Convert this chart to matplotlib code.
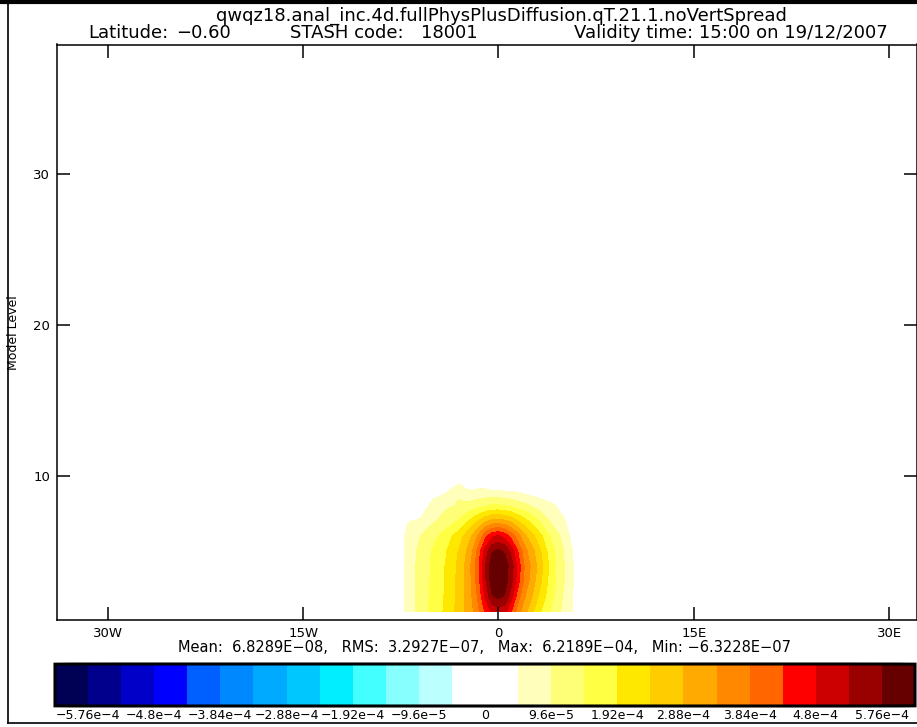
import numpy as np
import matplotlib
matplotlib.use("Agg")
import matplotlib.pyplot as plt
from matplotlib.colors import ListedColormap, BoundaryNorm
from matplotlib.patches import FancyBboxPatch
from matplotlib.lines import Line2D

W, H = 917, 727

# DATA
# qT increment (units of 1e-4 kg/kg) read off the cross-section, rows = model level
lons = [-8, -7, -6, -5, -4, -3, -2.5, -2, -1.5, -1, -0.5, 0,
        0.5, 1, 1.5, 2, 2.5, 3, 4, 5, 6]
model_levels = [1, 2, 3, 4, 5, 6, 7, 8, 9, 10]
qt_inc = [
    [0, 0.64, 1.17, 1.62, 2.03, 2.61, 2.95, 3.29, 3.80, 4.40, 4.90, 5.05,
     4.95, 4.30, 3.60, 3.06, 2.59, 2.08, 1.44, 0.82, 0.33],
    [0, 0.64, 1.15, 1.58, 2.00, 2.58, 2.96, 3.40, 4.00, 4.90, 5.70, 5.90,
     5.70, 5.00, 4.05, 3.40, 2.95, 2.45, 1.60, 0.90, 0.30],
    [0, 0.64, 1.14, 1.55, 1.98, 2.56, 2.97, 3.45, 4.20, 5.20, 6.00, 6.15,
     5.95, 5.40, 4.50, 3.70, 3.20, 2.70, 1.70, 1.00, 0.30],
    [0, 0.64, 1.13, 1.53, 1.97, 2.54, 2.97, 3.50, 4.30, 5.30, 6.05, 6.20,
     6.00, 5.50, 4.60, 3.80, 3.30, 2.82, 1.76, 1.00, 0.30],
    [0, 0.62, 1.10, 1.50, 1.90, 2.45, 2.85, 3.35, 4.10, 5.00, 5.70, 5.85,
     5.70, 5.10, 4.30, 3.55, 3.10, 2.65, 1.65, 0.95, 0.25],
    [0, 0.60, 0.95, 1.30, 1.70, 2.20, 2.55, 2.95, 3.50, 4.20, 4.70, 4.85,
     4.60, 4.10, 3.55, 3.00, 2.60, 2.20, 1.40, 0.80, 0.10],
    [0, 0.45, 0.55, 0.90, 1.15, 1.50, 1.80, 2.10, 2.45, 2.80, 3.00, 3.05,
     2.95, 2.75, 2.40, 2.10, 1.80, 1.50, 0.90, 0.55, 0],
    [0, 0, 0.10, 0.70, 0.90, 1.00, 1.10, 1.20, 1.30, 1.40, 1.50, 1.50,
     1.45, 1.35, 1.20, 1.10, 0.95, 0.80, 0.60, 0.30, 0],
    [0, 0, 0, 0.20, 0.40, 0.90, 0.55, 0.50, 0.55, 0.55, 0.50, 0.50,
     0.45, 0.45, 0.40, 0.30, 0.25, 0.20, 0.10, 0, 0],
    [0, 0, 0, 0, 0, 0, 0, 0, 0, 0, 0, 0, 0, 0, 0, 0, 0, 0, 0, 0, 0],
]

# colour bands (1e-4 units): 12 negative, white centre, 12 positive
cb_bounds = [-6.24, -5.76, -5.28, -4.8, -4.32, -3.84, -3.36, -2.88, -2.4, -1.92,
             -1.44, -0.96, -0.48, 0.48, 0.96, 1.44, 1.92, 2.4, 2.88, 3.36, 3.84,
             4.32, 4.8, 5.28, 5.76, 6.24]
cb_colors = ["#000055", "#00008c", "#0000c8", "#0000ff", "#0060ff", "#0088ff",
             "#00aaff", "#00c8ff", "#00eeff", "#44ffff", "#88ffff", "#bbffff",
             "#ffffff",
             "#ffffbb", "#ffff77", "#ffff44", "#ffe800", "#ffcc00", "#ffaa00",
             "#ff8800", "#ff6600", "#ff0000", "#cc0000", "#990000", "#660000"]
cb_tick_values = [-5.76, -4.8, -3.84, -2.88, -1.92, -0.96, 0,
                  0.96, 1.92, 2.88, 3.84, 4.8, 5.76]
cb_tick_labels = ["−5.76e−4", "−4.8e−4", "−3.84e−4", "−2.88e−4", "−1.92e−4",
                  "−9.6e−5", "0", "9.6e−5", "1.92e−4", "2.88e−4", "3.84e−4",
                  "4.8e−4", "5.76e−4"]

x_ticks = [-30, -15, 0, 15, 30]
x_tick_labels = ["30W", "15W", "0", "15E", "30E"]
y_ticks = [10, 20, 30]

title_1 = "qwqz18.anal_inc.4d.fullPhysPlusDiffusion.qT.21.1.noVertSpread"
stats_text = ("Mean:  6.8289E−08,   RMS:  3.2927E−07,   Max:  6.2189E−04,   "
              "Min: −6.3228E−07")


def fx(px):
    return px / W


def fy(py):
    return 1 - py / H


fig = plt.figure(figsize=(W / 100, H / 100), dpi=100)

# MAIN CROSS-SECTION
ax = fig.add_axes([fx(57), fy(620), fx(916.5) - fx(57), fy(44.5) - fy(620)])
cmap = ListedColormap(cb_colors)
norm = BoundaryNorm(cb_bounds, cmap.N)
ax.contourf(lons, model_levels, np.array(qt_inc), levels=cb_bounds[13:],
            cmap=cmap, norm=norm)
ax.set_xlim(-33.9, 32.1)
ax.set_ylim(0.43, 38.6)
ax.set_xticks(x_ticks)
ax.set_xticklabels(x_tick_labels)
ax.set_yticks(y_ticks)
ax.tick_params(direction="in", length=9.5, width=1.1, top=True, right=True,
               labelsize=9.5, pad=5)
for s in ax.spines.values():
    s.set_linewidth(1.1)
ax.set_ylabel("Model Level", fontsize=9)
ax.yaxis.set_label_coords((20 - 57) / 860, 0.5)

# titles
fs = 13
fig.text(fx(501), fy(16), title_1, ha="center", va="center", fontsize=fs)
fig.text(fx(88), fy(33), "Latitude:", ha="left", va="center", fontsize=fs)
fig.text(fx(231), fy(33), "−0.60", ha="right", va="center", fontsize=fs)
fig.text(fx(290), fy(33), "STASH code:", ha="left", va="center", fontsize=fs)
fig.text(fx(421), fy(33), "18001", ha="left", va="center", fontsize=fs)
fig.text(fx(888), fy(33), "Validity time: 15:00 on 19/12/2007", ha="right",
         va="center", fontsize=fs)
fig.text(fx(485), fy(647), stats_text, ha="center", va="center", fontsize=10.5)

# COLOURBAR
cax = fig.add_axes([fx(55), fy(706), fx(915) - fx(55), fy(664) - fy(706)])
cax.pcolormesh(cb_bounds, [0, 1], np.arange(len(cb_colors)).reshape(1, -1),
               cmap=cmap, norm=BoundaryNorm(np.arange(len(cb_colors) + 1) - 0.5, cmap.N))
cax.set_xlim(cb_bounds[0], cb_bounds[-1])
cax.set_ylim(0, 1)
cax.axis("off")
cax.add_patch(FancyBboxPatch((0, 0), 1, 1, boxstyle="round,pad=0,rounding_size=0.08",
                             transform=cax.transAxes, fill=False, lw=2.2,
                             ec="black", clip_on=False, mutation_aspect=0.05))
for v, lab in zip(cb_tick_values, cb_tick_labels):
    cax.text(v, -0.08, lab, ha="center", va="top", fontsize=9)

# outer frame
fig.add_artist(Line2D([fx(8), fx(8)], [fy(0), fy(723)], color="black", lw=1.2))
fig.add_artist(Line2D([fx(8), fx(917)], [fy(723), fy(723)], color="black", lw=1.2))
fig.add_artist(Line2D([0, 1], [fy(2), fy(2)], color="black", lw=3))

fig.savefig("out.png", dpi=100)
